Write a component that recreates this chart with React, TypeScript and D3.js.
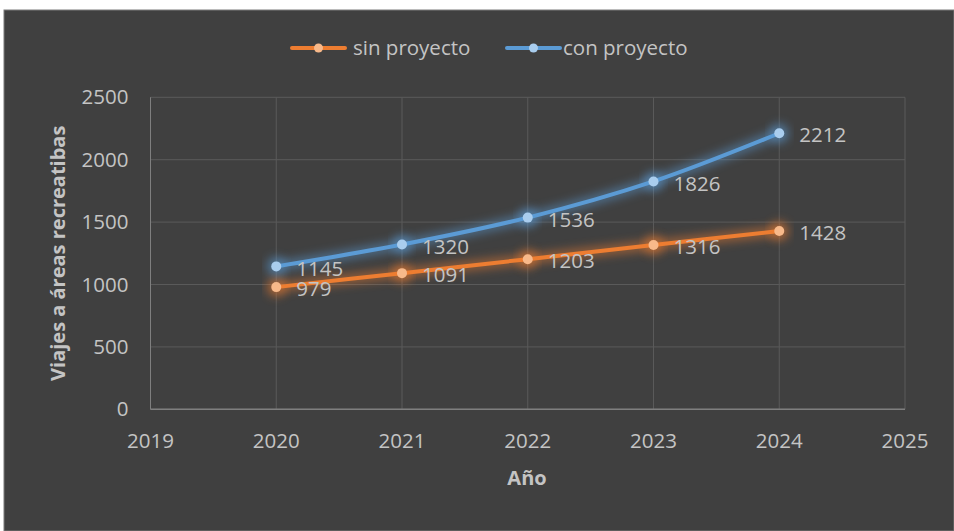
import React from "react";
import * as d3 from "d3";

const years = [2020, 2021, 2022, 2023, 2024];
const sinProyecto = [979, 1091, 1203, 1316, 1428];
const conProyecto = [1145, 1320, 1536, 1826, 2212];
const xTicks = [2019, 2020, 2021, 2022, 2023, 2024, 2025];
const yTicks = [0, 500, 1000, 1500, 2000, 2500];
const seriesNames = ["sin proyecto", "con proyecto"];

const W = 954;
const H = 531;
const FONT = "'Open Sans', sans-serif";
const TXT = "#c4c4c4";

export default function App() {
  const x = d3.scaleLinear().domain([2019, 2025]).range([150.5, 905]);
  const y = d3.scaleLinear().domain([0, 2500]).range([409.3, 97.3]);
  const line = d3
    .line<number>()
    .x((_, i) => x(years[i]))
    .y((d) => y(d))
    .curve(d3.curveCatmullRom.alpha(0.5));

  const series = [
    { name: seriesNames[0], data: sinProyecto, color: "#ed7d31", marker: "#f8b98a", glow: "glowO" },
    { name: seriesNames[1], data: conProyecto, color: "#5b9bd5", marker: "#a9cdee", glow: "glowB" },
  ];

  const legendItems = [
    { lx: 292, tx: 353 },
    { lx: 507, tx: 563 },
  ];

  return (
    <svg
      width={W}
      height={H}
      style={{ position: "absolute", left: 0, top: 0, background: "#fff" }}
      fontFamily={FONT}
    >
      <defs>
        <filter id="glowO" x="-20%" y="-50%" width="140%" height="200%">
          <feGaussianBlur stdDeviation="5" />
        </filter>
        <filter id="glowB" x="-20%" y="-50%" width="140%" height="200%">
          <feGaussianBlur stdDeviation="5" />
        </filter>
      </defs>
      <rect x={4} y={10} width={W - 4} height={H - 10} fill="#404040" stroke="#7a7a7a" strokeWidth={1} />

      {/* gridlines */}
      {yTicks.map((t) => (
        <line key={"gy" + t} x1={x(2019)} x2={x(2025)} y1={y(t)} y2={y(t)} stroke="#5a5a5a" strokeWidth={1} />
      ))}
      {xTicks.map((t) => (
        <line key={"gx" + t} x1={x(t)} x2={x(t)} y1={y(2500)} y2={y(0)} stroke="#5a5a5a" strokeWidth={1} />
      ))}
      {/* axes */}
      <line x1={x(2019)} x2={x(2025)} y1={y(0)} y2={y(0)} stroke="#7f7f7f" strokeWidth={1.5} />
      <line x1={x(2019)} x2={x(2019)} y1={y(2500)} y2={y(0)} stroke="#7f7f7f" strokeWidth={1} />

      {/* y tick labels */}
      {yTicks.map((t) => (
        <text key={"ty" + t} x={x(2019) - 22} y={y(t)} dy="0.35em" textAnchor="end" fontSize={20.5} fill={TXT}>
          {t}
        </text>
      ))}
      {/* x tick labels */}
      {xTicks.map((t) => (
        <text key={"tx" + t} x={x(t)} y={441} dy="0.35em" textAnchor="middle" fontSize={20.5} fill={TXT}>
          {t}
        </text>
      ))}

      {/* axis titles */}
      <text
        transform={`translate(58,${(y(0) + y(2500)) / 2}) rotate(-90)`}
        textAnchor="middle"
        dy="0.35em"
        fontSize={20}
        fontWeight="bold"
        fill={TXT}
      >
        Viajes a áreas recreatibas
      </text>
      <text x={527} y={478} dy="0.35em" textAnchor="middle" fontSize={20} fontWeight="bold" fill={TXT}>
        Año
      </text>

      {/* series */}
      {series.map((s) => (
        <g key={s.name}>
          <path d={line(s.data) || ""} fill="none" stroke={s.color} strokeWidth={10} opacity={0.5} filter={`url(#${s.glow})`} />
          <path d={line(s.data) || ""} fill="none" stroke={s.color} strokeWidth={4} strokeLinecap="round" />
          {s.data.map((v, i) => (
            <g key={i}>
              <circle cx={x(years[i])} cy={y(v)} r={10} fill={s.color} opacity={0.5} filter={`url(#${s.glow})`} />
              <circle cx={x(years[i])} cy={y(v)} r={5} fill={s.marker} />
            </g>
          ))}
        </g>
      ))}
      {series.map((s) =>
        s.data.map((v, i) => (
          <text key={s.name + i} x={x(years[i]) + 20} y={y(v) + 2} dy="0.35em" fontSize={20.5} fill={TXT}>
            {v}
          </text>
        ))
      )}

      {/* legend */}
      {series.map((s, i) => (
        <g key={"lg" + i}>
          <line x1={legendItems[i].lx} x2={legendItems[i].lx + 53} y1={48} y2={48} stroke={s.color} strokeWidth={4} strokeLinecap="round" />
          <circle cx={legendItems[i].lx + 26.5} cy={48} r={4.5} fill={s.marker} />
          <text x={legendItems[i].tx} y={48} dy="0.35em" fontSize={20.5} fill={TXT}>
            {s.name}
          </text>
        </g>
      ))}
    </svg>
  );
}
